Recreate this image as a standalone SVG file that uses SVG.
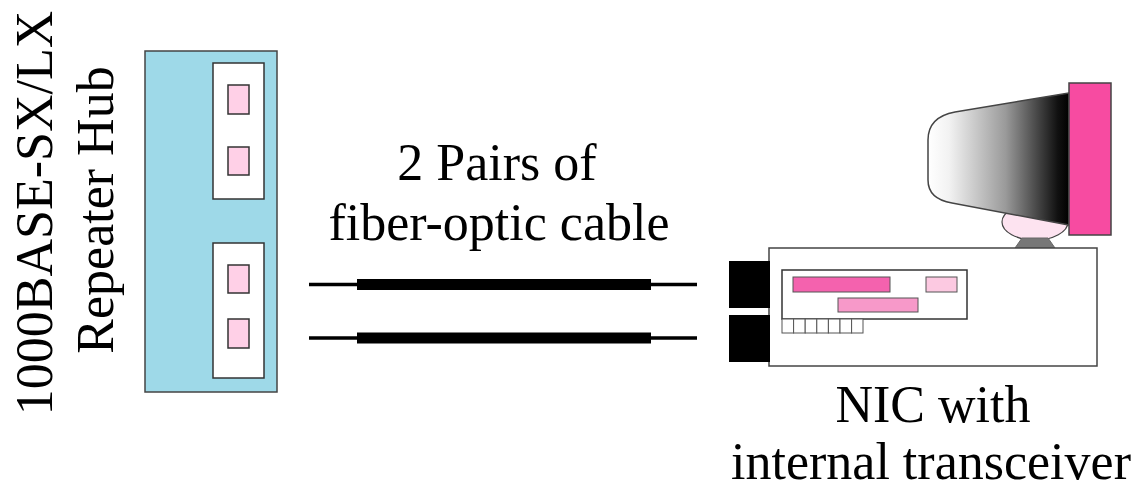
<svg xmlns="http://www.w3.org/2000/svg" width="1143" height="490" viewBox="0 0 1143 490">
  <style>
    .lbl { font-family: "Liberation Serif", "Times New Roman", serif; font-size: 52px; fill: #000; }
    .edge { stroke: #444; stroke-width: 1.5; }
    .port { fill: #ffd0e7; stroke: #333; stroke-width: 1.5; }
    .slot { fill: #fff; stroke: #333; stroke-width: 1.5; }
    .thin { stroke: #000; stroke-width: 3.5; fill: none; }
    .thick { stroke: #000; stroke-width: 11; fill: none; }
    .jack { fill: #000; }
  </style>
  <defs>
    <linearGradient id="tubeShade" x1="928" y1="0" x2="1069" y2="0" gradientUnits="userSpaceOnUse">
      <stop offset="0" stop-color="#ffffff"/>
      <stop offset="0.15" stop-color="#f2f2f2"/>
      <stop offset="0.55" stop-color="#9a9a9a"/>
      <stop offset="0.92" stop-color="#111111"/>
      <stop offset="1" stop-color="#000000"/>
    </linearGradient>
  </defs>

  <!-- Repeater hub with two port modules -->
  <g id="hub">
    <rect x="145" y="51" width="132" height="341" fill="#9ed9e8" class="edge"/>
    <rect x="213" y="63" width="51" height="136" class="slot"/>
    <rect x="213" y="243" width="51" height="135" class="slot"/>
    <rect x="228" y="85" width="21" height="29" class="port"/>
    <rect x="228" y="147" width="21" height="28" class="port"/>
    <rect x="228" y="265" width="21" height="28" class="port"/>
    <rect x="228" y="319" width="21" height="29" class="port"/>
    <text class="lbl" text-anchor="middle" transform="translate(52,213) rotate(-90)">1000BASE-SX/LX</text>
    <text class="lbl" text-anchor="middle" transform="translate(113,210) rotate(-90)">Repeater Hub</text>
  </g>

  <!-- Fiber-optic cable pairs -->
  <g id="connectors">
    <line class="thin" x1="309" y1="284.5" x2="697" y2="284.5"/>
    <line class="thick" x1="357" y1="284.5" x2="651" y2="284.5"/>
    <line class="thin" x1="309" y1="338" x2="697" y2="338"/>
    <line class="thick" x1="357" y1="338" x2="651" y2="338"/>
  </g>

  <g id="cable-label">
    <text class="lbl" x="497" y="180" text-anchor="middle">2 Pairs of</text>
    <text class="lbl" x="499" y="240" text-anchor="middle">fiber-optic cable</text>
  </g>

  <!-- Workstation: monitor on top of system unit with NIC -->
  <g id="computer">
    <!-- monitor stand -->
    <ellipse cx="1035" cy="222" rx="33" ry="18" fill="#fde3f0" stroke="#444" stroke-width="1.2"/>
    <polygon points="1022,238 1048,238 1055,248 1015,248" fill="#777" stroke="#666" stroke-width="1"/>
    <!-- picture tube -->
    <path d="M1069,93 L955,112 Q928,117 928,140 L928,180 Q928,199 952,203 L1069,225 Z" fill="url(#tubeShade)" stroke="#444" stroke-width="1.5"/>
    <rect x="1069" y="83" width="42" height="152" fill="#f74ba1" stroke="#444" stroke-width="1.5"/>
    <!-- system unit -->
    <rect x="769" y="248" width="328" height="118" fill="#fff" class="edge"/>
    <rect class="jack" x="729" y="261" width="41" height="47"/>
    <rect class="jack" x="729" y="315" width="41" height="47"/>
    <!-- NIC board -->
    <rect x="782" y="270" width="185" height="49" fill="#fff" stroke="#333" stroke-width="1.5"/>
    <rect x="793" y="277" width="97" height="15" fill="#f462ae" stroke="#555" stroke-width="1"/>
    <rect x="926" y="277" width="31" height="15" fill="#fcc9e1" stroke="#555" stroke-width="1"/>
    <rect x="838" y="298" width="80" height="14" fill="#f799c9" stroke="#555" stroke-width="1"/>
    <!-- edge connector contacts -->
    <g fill="#fff" stroke="#555" stroke-width="1">
      <rect x="782" y="319" width="11.6" height="14"/>
      <rect x="793.6" y="319" width="11.6" height="14"/>
      <rect x="805.2" y="319" width="11.6" height="14"/>
      <rect x="816.8" y="319" width="11.6" height="14"/>
      <rect x="828.4" y="319" width="11.6" height="14"/>
      <rect x="840" y="319" width="11.6" height="14"/>
      <rect x="851.6" y="319" width="11.4" height="14"/>
    </g>
    <text class="lbl" x="933" y="422" text-anchor="middle">NIC with</text>
    <text class="lbl" x="931" y="479" text-anchor="middle">internal transceiver</text>
  </g>
</svg>
